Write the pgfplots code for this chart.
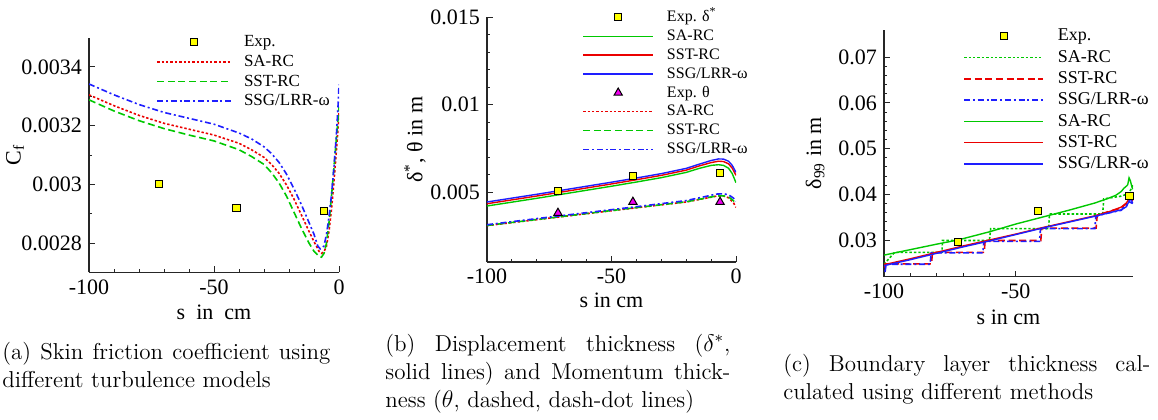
\documentclass[border=0pt]{standalone}
\usepackage{fontspec}
\usepackage{pgfplots}
\pgfplotsset{compat=1.18}
\newfontfamily\tp{Liberation Serif}
\definecolor{tgreen}{RGB}{0,200,0}
\definecolor{tred}{RGB}{235,0,0}
\definecolor{tblue}{RGB}{30,30,255}
\definecolor{tyellow}{RGB}{255,255,0}
\definecolor{tmag}{RGB}{240,0,240}
\pgfplotsset{
  tp/.style={
    scale only axis, anchor=south west,
    axis x line=bottom, axis y line=left,
    axis line style={-, line width=0.6pt, black!85},
    every outer x axis line/.append style={-},
    every outer y axis line/.append style={-},
    tick align=inside, major tick length=3pt, minor tick length=1.6pt,
    tick style={line width=0.5pt, black!85},
    tick label style={font=\tp\fontsize{11}{13}\selectfont},
    label style={font=\tp\fontsize{11}{13}\selectfont},
    scaled ticks=false,
    legend cell align=left,
  },
  exp/.style={only marks, mark=square*, mark size=1.8pt, mark options={fill=tyellow, draw=black, line width=0.5pt, solid}},
  expt/.style={only marks, mark=triangle*, mark size=2.4pt, mark options={fill=tmag, draw=black, line width=0.5pt, solid}},
  ldot/.style={no marks, line width=0.8pt, dash pattern=on 1.2pt off 1pt},
  ldash/.style={no marks, line width=0.8pt, dash pattern=on 3.5pt off 1.8pt},
  ldashdot/.style={no marks, line width=0.8pt, dash pattern=on 3pt off 1.4pt on 1pt off 1.4pt},
  lsolid/.style={no marks, line width=0.7pt, solid},
}
\begin{document}
\begin{tikzpicture}
% ---------------- (a) ----------------
\begin{axis}[tp, at={(44.5pt,73.3pt)}, width=125pt, height=117.4pt,
  xmin=-100, xmax=0, ymin=0.0027, ymax=0.0035,
  xtick={-100,-50,0}, xticklabels={-100,-50,0}, minor x tick num=4,
  ytick={0.0028,0.003,0.0032,0.0034}, yticklabels={0.0028,0.003,0.0032,0.0034}, minor y tick num=1,
  xlabel={s\ \ in\ \ cm}, ylabel={C\textsubscript{f}},
  xlabel style={at={(axis description cs:0.5,-0.170)}, anchor=center},
  ylabel style={at={(axis description cs:-0.296,0.5)}, anchor=center},
  legend style={draw=none, fill=none, at={(0.268,1.0136)}, anchor=north west, inner sep=0pt,
    row sep=2.3pt, column sep=6pt, font=\tp\fontsize{8.5}{10}\selectfont,
    nodes={inner sep=0pt, text height=6pt, text depth=1.5pt}},
  legend image code/.code={\draw[mark repeat=2,mark phase=2,#1] plot coordinates {(0pt,0pt) (18.5pt,0pt) (37pt,0pt)};},
]
\addplot[exp] coordinates {(-72,0.00300) (-41,0.00292) (-6,0.00291)};
\addlegendentry{Exp.}
\addplot[ldot, color=tred] coordinates {
(-100,0.003305) (-90,0.003268) (-80,0.003235) (-70,0.003208) (-60,0.003188) (-50,0.003168)
(-40,0.003140) (-35,0.003118) (-30,0.003092) (-27,0.003068) (-24,0.003038) (-21,0.002998)
(-18,0.002950) (-15,0.002895) (-12,0.002840) (-10,0.002805) (-8,0.002772) (-7,0.002765)
(-6,0.002770) (-5,0.002790) (-4,0.002840) (-3,0.002915) (-2,0.003010) (-1,0.003120)
(-0.3,0.003200) (0,0.003245)};
\addlegendentry{SA-RC}
\addplot[ldash, color=tgreen] coordinates {
(-100,0.003288) (-90,0.003250) (-80,0.003217) (-70,0.003190) (-60,0.003168) (-50,0.003148)
(-40,0.003118) (-35,0.003095) (-30,0.003068) (-27,0.003040) (-24,0.003005) (-21,0.002960)
(-18,0.002905) (-15,0.002850) (-12,0.002800) (-10,0.002772) (-8,0.002755) (-7,0.002752)
(-6,0.002765) (-5,0.002800) (-4,0.002870) (-3,0.002960) (-2,0.003060) (-1,0.003160)
(-0.3,0.003230) (0,0.003265)};
\addlegendentry{SST-RC}
\addplot[ldashdot, color=tblue] coordinates {
(-100,0.003342) (-90,0.003305) (-80,0.003272) (-70,0.003245) (-60,0.003225) (-50,0.003205)
(-40,0.003175) (-35,0.003155) (-30,0.003128) (-27,0.003105) (-24,0.003075) (-21,0.003035)
(-18,0.002985) (-15,0.002930) (-12,0.002870) (-10,0.002830) (-8.5,0.002790) (-7.5,0.002780)
(-6,0.002790) (-5,0.002830) (-4,0.002890) (-3,0.002965) (-2,0.003060) (-1,0.003175)
(-0.3,0.003280) (0,0.003340)};
\addlegendentry{SSG/LRR-ω}
\end{axis}
% ---------------- (b) ----------------
\begin{axis}[tp, at={(243.5pt,78.5pt)}, width=124.5pt, height=122.5pt,
  xmin=-100, xmax=0, ymin=0.001, ymax=0.015,
  xtick={-100,-50,0}, xticklabels={-100,-50,0}, minor x tick num=4,
  ytick={0.005,0.01,0.015}, yticklabels={0.005,0.01,0.015}, minor y tick num=4,
  xlabel={s in cm}, ylabel={δ\textsuperscript{*}, θ in m},
  xlabel style={at={(axis description cs:0.5,-0.155)}, anchor=center},
  ylabel style={at={(axis description cs:-0.289,0.5)}, anchor=center},
  legend style={draw=none, fill=none, at={(0.3815,1.0286)}, anchor=north west, inner sep=0pt,
    row sep=2.43pt, column sep=6.5pt, font=\tp\fontsize{8}{10}\selectfont,
    nodes={inner sep=0pt, text height=5.6pt, text depth=1.4pt}},
  legend image code/.code={\draw[mark repeat=2,mark phase=2,#1] plot coordinates {(0pt,0pt) (17.5pt,0pt) (35pt,0pt)};},
]
\addplot[exp] coordinates {(-71.5,0.00505) (-41.4,0.0059) (-6.4,0.0061)};
\addlegendentry{Exp. δ\textsuperscript{*}}
\addplot[lsolid, color=tgreen] coordinates {
(-100,0.00420) (-90,0.00442) (-80,0.00464) (-70,0.00487) (-60,0.00510) (-50,0.00533)
(-40,0.00557) (-30,0.00582) (-20,0.00612) (-15,0.00634) (-10,0.00652) (-7,0.00656)
(-5,0.00652) (-3,0.00636) (-1.5,0.00605) (0,0.00553)};
\addlegendentry{SA-RC}
\addplot[lsolid, color=tred] coordinates {
(-100,0.00433) (-90,0.00455) (-80,0.00477) (-70,0.00500) (-60,0.00523) (-50,0.00546)
(-40,0.00570) (-30,0.00595) (-20,0.00625) (-15,0.00648) (-10,0.00668) (-7,0.00676)
(-5,0.00674) (-3,0.00661) (-1.5,0.00636) (0,0.00595)};
\addlegendentry{SST-RC}
\addplot[lsolid, color=tblue] coordinates {
(-100,0.00443) (-90,0.00465) (-80,0.00487) (-70,0.00510) (-60,0.00533) (-50,0.00556)
(-40,0.00580) (-30,0.00605) (-20,0.00635) (-15,0.00658) (-10,0.00680) (-7,0.00689)
(-5,0.00688) (-3,0.00676) (-1.5,0.00652) (0,0.00612)};
\addlegendentry{SSG/LRR-ω}
\addplot[expt] coordinates {(-71.5,0.0038) (-41.4,0.00443) (-6.4,0.00443)};
\addlegendentry{Exp. θ}
\addplot[ldot, color=tred] coordinates {
(-100,0.00308) (-80,0.00342) (-60,0.00376) (-40,0.00410) (-20,0.00443) (-12,0.00465)
(-8,0.00476) (-5,0.00477) (-3,0.00467) (-1,0.00438) (0,0.00412)};
\addlegendentry{SA-RC}
\addplot[ldash, color=tgreen] coordinates {
(-100,0.00309) (-80,0.00343) (-60,0.00377) (-40,0.00411) (-20,0.00444) (-12,0.00466)
(-8,0.00477) (-5,0.00478) (-3,0.00472) (-1,0.00450) (0,0.00430)};
\addlegendentry{SST-RC}
\addplot[ldashdot, color=tblue] coordinates {
(-100,0.00313) (-80,0.00348) (-60,0.00382) (-40,0.00416) (-20,0.00451) (-12,0.00475)
(-8,0.00488) (-5,0.00490) (-3,0.00484) (-1,0.00465) (0,0.00448)};
\addlegendentry{SSG/LRR-ω}
\end{axis}
% ---------------- (c) ----------------
\begin{axis}[tp, at={(442pt,71.2pt)}, width=124.5pt, height=123.4pt,
  xmin=-100, xmax=-5.5, ymin=0.022, ymax=0.076,
  xtick={-100,-50}, xticklabels={-100,-50}, minor x tick num=4,
  ytick={0.03,0.04,0.05,0.06,0.07}, yticklabels={0.03,0.04,0.05,0.06,0.07}, minor y tick num=4,
  xlabel={s in cm}, ylabel={δ\textsubscript{99} in m},
  xlabel style={at={(axis description cs:0.5,-0.166)}, anchor=center},
  ylabel style={at={(axis description cs:-0.277,0.5)}, anchor=center},
  legend style={draw=none, fill=none, at={(0.317,1.0077)}, anchor=north west, inner sep=0pt,
    row sep=2.75pt, column sep=7pt, font=\tp\fontsize{9}{11}\selectfont,
    nodes={inner sep=0pt, text height=6.3pt, text depth=1.6pt}},
  legend image code/.code={\draw[mark repeat=2,mark phase=2,#1] plot coordinates {(0pt,0pt) (19.75pt,0pt) (39.5pt,0pt)};},
]
\addplot[exp] coordinates {(-72,0.0295) (-41.7,0.0363) (-6.8,0.0396)};
\addlegendentry{Exp.}
\addplot[ldot, color=tgreen] coordinates {
(-100,0.0247) (-96,0.0273) (-78,0.0273) (-77.8,0.0299) (-60,0.0299) (-59.5,0.0325)
(-37.5,0.0325) (-37.2,0.0357) (-17,0.0357) (-16.6,0.0390) (-10,0.0396) (-7,0.0402) (-5.6,0.0420)};
\addlegendentry{SA-RC}
\addplot[ldash, color=tred] coordinates {
(-100,0.0240) (-99.5,0.0248) (-82,0.0248) (-81.6,0.0273) (-62,0.0273) (-61.6,0.0299)
(-40.5,0.0299) (-40.1,0.0326) (-19.5,0.0326) (-19.1,0.0354) (-15,0.0362) (-10,0.0370)
(-8,0.0380) (-6.5,0.0391) (-5.6,0.0386)};
\addlegendentry{SST-RC}
\addplot[ldashdot, color=tblue] coordinates {
(-99.6,0.0230) (-99.2,0.0247) (-82.5,0.0247) (-82.1,0.0272) (-62.5,0.0272) (-62.1,0.0297)
(-41,0.0297) (-40.6,0.0325) (-20,0.0325) (-19.6,0.0352) (-15,0.0359) (-10,0.0365)
(-7,0.0384) (-5.6,0.0380)};
\addlegendentry{SSG/LRR-ω}
\addplot[lsolid, color=tgreen] coordinates {
(-100,0.0267) (-90,0.0279) (-80,0.0291) (-72,0.0300) (-60,0.0318) (-50,0.0335)
(-40,0.0350) (-30,0.0365) (-20,0.0381) (-15,0.0391) (-12,0.0398) (-10,0.0406)
(-9,0.0413) (-8,0.0418) (-7.5,0.0421) (-7,0.0436) (-6.5,0.0430) (-6,0.0418) (-5.6,0.0411)};
\addlegendentry{SA-RC}
\addplot[lsolid, color=tred] coordinates {
(-100,0.0246) (-90,0.0259) (-80,0.0273) (-70,0.0287) (-60,0.0300) (-50,0.0313)
(-40,0.0327) (-30,0.0340) (-20,0.0353) (-15,0.0361) (-10,0.0372) (-8,0.0381)
(-7,0.0390) (-6.5,0.0395) (-6,0.0390) (-5.6,0.0385)};
\addlegendentry{SST-RC}
\addplot[lsolid, color=tblue] coordinates {
(-100,0.0244) (-90,0.0257) (-80,0.0271) (-70,0.0285) (-60,0.0298) (-50,0.0312)
(-40,0.0326) (-30,0.0339) (-20,0.0352) (-15,0.0359) (-10,0.0366) (-8,0.0373)
(-7,0.0385) (-6.5,0.0391) (-6,0.0386) (-5.6,0.0380)};
\addlegendentry{SSG/LRR-ω}
\end{axis}
% ---------------- captions ----------------
\node[anchor=north west, inner sep=0pt, text width=164pt, align=justify, font=\fontsize{11.5}{14}\selectfont] at (1pt,38.8pt)
  {(a) Skin friction coefficient using\linebreak different turbulence models};
\node[anchor=north west, inner sep=0pt, text width=172.5pt, align=justify, font=\fontsize{11.5}{14}\selectfont] at (192.5pt,42.5pt)
  {(b) Displacement thickness ($\delta^*$,\linebreak solid lines) and Momentum thick-\linebreak ness ($\theta$, dashed, dash-dot lines)};
\node[anchor=north west, inner sep=0pt, text width=183.5pt, align=justify, font=\fontsize{11.5}{14}\selectfont] at (391.5pt,32.5pt)
  {(c) Boundary layer thickness cal-\linebreak culated using different methods};
\pgfresetboundingbox
\useasboundingbox (0,0) rectangle (579pt,209.5pt);
\end{tikzpicture}
\end{document}
